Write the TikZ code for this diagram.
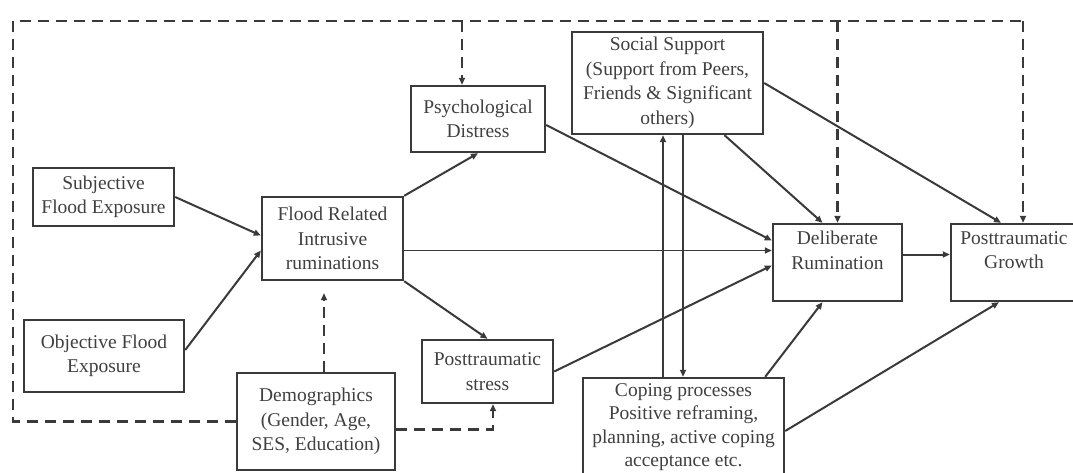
\documentclass[tikz,border=0pt]{standalone}
\usepackage{fontspec}
\setmainfont{Liberation Serif}
\usetikzlibrary{arrows.meta,calc}
\definecolor{ink}{HTML}{3A3A3A}
\definecolor{txt}{HTML}{404040}
\begin{document}
\begin{tikzpicture}[x=1pt,y=-1pt,
  box/.style={draw=ink,line width=2.4pt,fill=white,align=center,text=txt,inner sep=2pt,
    font=\fontsize{19.5}{24.5}\selectfont},
  tip/.style={-{Triangle[length=7pt,width=6pt]}},
  link/.style={draw=ink,line width=2pt,tip},
  thinlink/.style={link,line width=1.4pt},
  dashlink/.style={draw=ink,line width=2.4pt,dash pattern=on 11pt off 7pt}]
\clip (0,0) rectangle (1073,472);
\fill[white] (0,0) rectangle (1073,472);

% boxes
\node[box,minimum width=141pt,minimum height=58pt] (subj) at (103.5,197) {Subjective\\Flood Exposure};
\node[box,minimum width=160pt,minimum height=72pt] (obj) at (104,356) {Objective Flood\\Exposure};
\node[box,minimum width=141pt,minimum height=83pt] (flood) at (332.5,238.5) {Flood Related\\Intrusive\\ruminations};
\node[box,minimum width=134pt,minimum height=66pt] (psych) at (478,119) {Psychological\\Distress};
\node[box,minimum width=131pt,minimum height=63pt] (pts) at (487.5,371.5) {Posttraumatic\\stress};
\node[box,minimum width=191pt,minimum height=102pt] (social) at (667.5,83) {Social Support\\(Support from Peers,\\Friends \& Significant\\others)};
\node[box,minimum width=129pt,minimum height=77pt] (delib) at (837.5,262.5) {Deliberate\\Rumination\\\mbox{}};
\node[box,minimum width=126pt,minimum height=77pt] (growth) at (1014,262.5) {Posttraumatic\\Growth\\\mbox{}};
\node[box,minimum width=158pt,minimum height=97pt] (demo) at (316,421.5) {Demographics\\(Gender, Age,\\SES, Education)};
\node[box,minimum width=201pt,minimum height=98pt,font=\fontsize{19.5}{23.5}\selectfont] (coping) at (683.5,427) {Coping processes\\Positive reframing,\\planning, active coping\\acceptance etc.};

% solid paths
\draw[link] (subj.east) -- ($(flood.west)+(0,-3)$);
\draw[link] ($(obj.east)+(0,-6)$) -- ($(flood.west)+(0,12)$);
\draw[link] (flood.north east) -- (psych.south);
\draw[thinlink] ($(flood.east)+(0,12)$) -- ($(delib.west)+(0,-12)$);
\draw[link] (flood.south east) -- (pts.north);
\draw[link] ($(psych.east)+(0,6)$) -- ($(delib.west)+(0,-22)$);
\draw[link] (pts.east) -- ($(delib.west)+(0,3)$);
\draw[link] ($(social.south)+(57,0)$) -- ($(delib.north)+(-15,0)$);
\draw[link] (social.east) -- ($(growth.north)+(-13,0)$);
\draw[link] ($(delib.east)+(0,-8)$) -- ($(growth.west)+(0,-8)$);
\draw[link] ($(coping.north east)+(-20,0)$) -- ($(delib.south)+(-15,0)$);
\draw[link] ($(coping.east)+(0,4)$) -- ($(growth.south)+(-15,0)$);
\draw[link] ($(coping.north)+(-20.5,0)$) -- ($(social.south)+(-4.5,0)$);
\draw[link] ($(social.south)+(15.5,0)$) -- ($(coping.north)+(-0.5,0)$);

% dashed control paths
\coordinate (tl) at (13,21);
\coordinate (tr) at (1023,21);
\coordinate (psychin) at ($(psych.north)+(-16,0)$);
\draw[dashlink] (demo.west) -| (tl) -- (tr);
\draw[dashlink,tip] (tr) -- (tr |- growth.north);
\draw[dashlink,tip] (psychin |- tl) -- (psychin);
\draw[dashlink,tip] (delib.north |- tl) -- (delib.north);
\draw[dashlink,tip] ($(demo.north)+(8,0)$) -- ($(flood.south)+(-8.5,12)$);
\draw[dashlink,tip] ($(demo.east)+(0,8)$) -| ($(pts.south)+(5.5,0)$);
\end{tikzpicture}
\end{document}
